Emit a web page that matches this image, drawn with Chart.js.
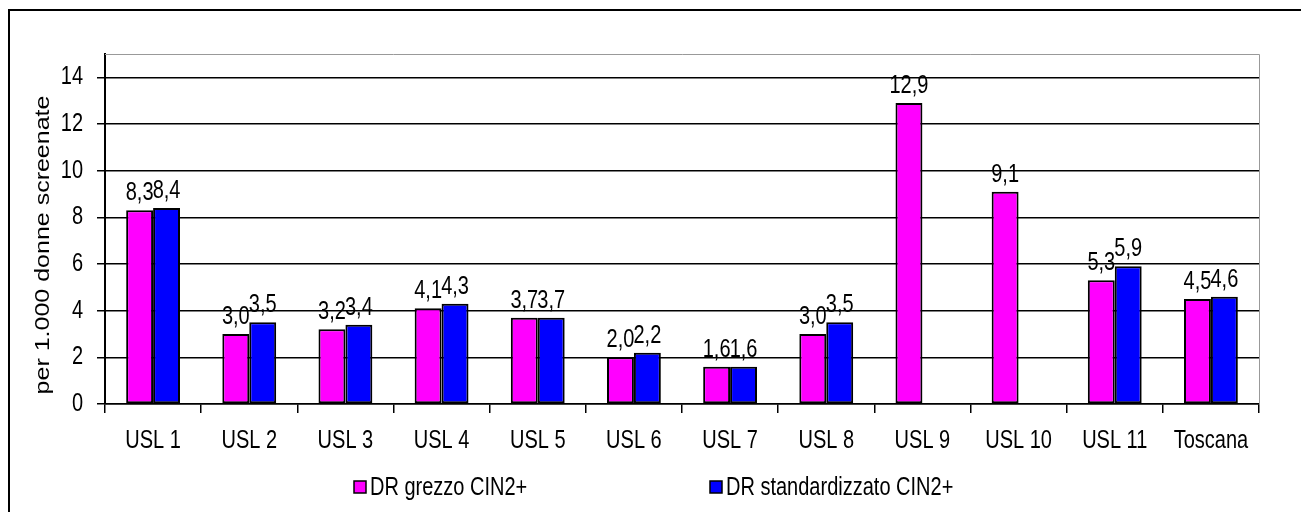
<!DOCTYPE html>
<html>
<head>
<meta charset="utf-8">
<script src="https://cdn.jsdelivr.net/npm/chart.js@4.4.1/dist/chart.umd.min.js"></script>
<style>
  html, body { margin: 0; padding: 0; background: #fff; }
  canvas { display: block; }
</style>
</head>
<body>
<canvas id="chart" width="1301" height="512"></canvas>
<script>
const categories = ['USL 1', 'USL 2', 'USL 3', 'USL 4', 'USL 5', 'USL 6', 'USL 7', 'USL 8', 'USL 9', 'USL 10', 'USL 11', 'Toscana']
const grezzo = [8.3, 3.0, 3.2, 4.1, 3.7, 2.0, 1.6, 3.0, 12.9, 9.1, 5.3, 4.5]
const standardizzato = [8.4, 3.5, 3.4, 4.3, 3.7, 2.2, 1.6, 3.5, null, null, 5.9, 4.6]
const seriesNames = ['DR grezzo CIN2+', 'DR standardizzato CIN2+']
const seriesColors = ['#ff00ff', '#0000ff']
const yTicks = [0, 2, 4, 6, 8, 10, 12, 14]
const yMax = 15
const yTitle = 'per 1.000 donne screenate'

const FONT = "'Liberation Sans', Arial, sans-serif"
const STRETCH = 1.25 // il grafico originale ha il testo allungato in verticale
Chart.defaults.font.family = FONT
Chart.defaults.color = '#000'

const fmt = v => v.toFixed(1).replace('.', ',')

// etichette valori sopra le barre
const valueLabels = {
  id: 'valueLabels',
  afterDatasetsDraw(chart) {
    const ctx = chart.ctx
    ctx.save()
    ctx.font = `20px ${FONT}`
    ctx.fillStyle = '#000'
    ctx.textAlign = 'center'
    ctx.textBaseline = 'alphabetic'
    chart.data.datasets.forEach((ds, i) => {
      chart.getDatasetMeta(i).data.forEach((bar, j) => {
        const v = ds.data[j]
        if (v === null || v === undefined) return
        ctx.fillText(fmt(v), bar.x, bar.y - 10)
      })
    })
    ctx.restore()
  }
}

// cornice esterna, bordo area grafico e legenda
const frame = {
  id: 'frame',
  afterDraw(chart) {
    const ctx = chart.ctx
    const a = chart.chartArea
    ctx.save()
    ctx.strokeStyle = '#000'
    ctx.lineWidth = 2
    ctx.strokeRect(9, 10, chart.width + 50, chart.height + 50)

    ctx.strokeStyle = '#999'
    ctx.lineWidth = 1
    ctx.beginPath()
    ctx.moveTo(a.left, a.top + 0.5)
    ctx.lineTo(a.right + 0.5, a.top + 0.5)
    ctx.lineTo(a.right + 0.5, a.bottom)
    ctx.stroke()

    const legendX = [354, 710]
    const legendY = 487
    ctx.font = `20px ${FONT}`
    ctx.textBaseline = 'middle'
    ctx.textAlign = 'left'
    chart.data.datasets.forEach((ds, i) => {
      const x = legendX[i]
      ctx.fillStyle = ds.backgroundColor
      ctx.fillRect(x, legendY - 6, 12, 12)
      ctx.strokeStyle = '#000'
      ctx.lineWidth = 1.5
      ctx.strokeRect(x, legendY - 6, 12, 12)
      ctx.fillStyle = '#000'
      ctx.fillText(ds.label, x + 16, legendY + 1)
    })
    ctx.restore()
  }
}

// allunga in verticale tutto il testo disegnato tra beforeDraw e afterDraw
const textStretch = {
  id: 'textStretch',
  beforeDraw(chart) {
    const ctx = chart.ctx
    const fill = CanvasRenderingContext2D.prototype.fillText
    ctx.fillText = function (t, x, y, w) {
      this.save()
      this.translate(x, y)
      this.scale(1, STRETCH)
      if (w === undefined) fill.call(this, t, 0, 0)
      else fill.call(this, t, 0, 0, w)
      this.restore()
    }
  },
  afterDraw(chart) {
    delete chart.ctx.fillText
  }
}

// titolo asse Y, allungato nel senso della scritta
const axisTitle = {
  id: 'axisTitle',
  afterDraw(chart) {
    const ctx = chart.ctx
    const a = chart.chartArea
    ctx.save()
    ctx.translate(43, (a.top + a.bottom) / 2 + 16)
    ctx.rotate(-Math.PI / 2)
    ctx.scale(STRETCH, 1)
    ctx.font = `20px ${FONT}`
    ctx.fillStyle = '#000'
    ctx.textAlign = 'center'
    ctx.textBaseline = 'middle'
    ctx.fillText(yTitle, 0, 0)
    ctx.restore()
  }
}

new Chart(document.getElementById('chart'), {
  type: 'bar',
  data: {
    labels: categories,
    datasets: [
      { label: seriesNames[0], data: grezzo, backgroundColor: seriesColors[0], borderColor: '#000', borderWidth: 2, borderSkipped: false },
      { label: seriesNames[1], data: standardizzato, backgroundColor: seriesColors[1], borderColor: '#000', borderWidth: 2, borderSkipped: false }
    ]
  },
  options: {
    responsive: false,
    animation: false,
    datasets: { bar: { categoryPercentage: 0.56, barPercentage: 1 } },
    layout: { padding: { top: 54, right: 42, bottom: 0, left: 0 } },
    plugins: { legend: { display: false }, tooltip: { enabled: false } },
    scales: {
      x: {
        afterFit(scale) { scale.height = 108 },
        grid: { drawOnChartArea: false, drawTicks: true, tickLength: 9, color: '#000', lineWidth: 1.5, offset: true },
        border: { display: true, color: '#000', width: 1.5 },
        ticks: { font: { size: 20 }, padding: 16, maxRotation: 0, autoSkip: false }
      },
      y: {
        min: 0,
        max: yMax,
        afterFit(scale) { scale.width = 105 },
        afterBuildTicks(scale) { scale.ticks = yTicks.map(v => ({ value: v })) },
        grid: { color: '#000', lineWidth: 1.5, tickLength: 8, drawTicks: true },
        border: { display: true, color: '#000', width: 2 },
        ticks: { font: { size: 20 }, padding: 14, callback: v => String(v) },
        title: { display: false }
      }
    }
  },
  plugins: [valueLabels, frame, textStretch, axisTitle]
})
</script>
</body>
</html>
